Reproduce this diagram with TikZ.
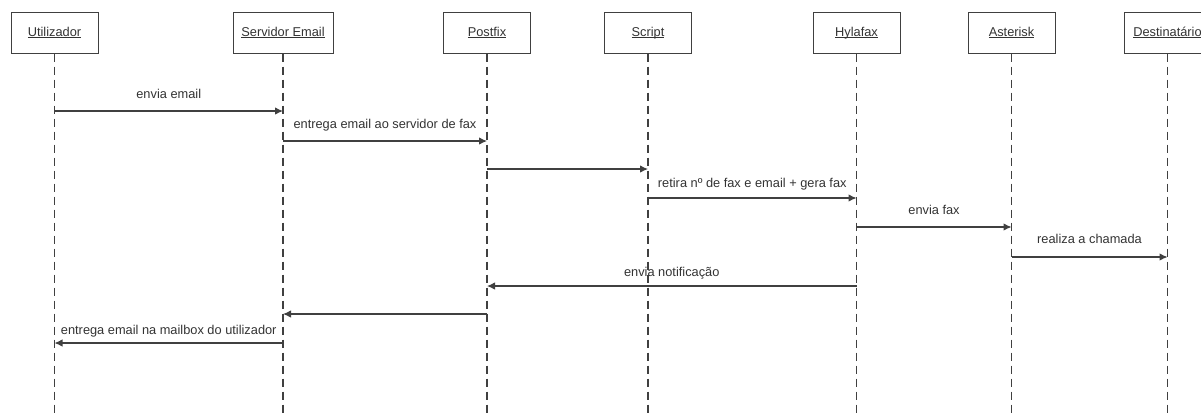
\documentclass[tikz,border=0pt]{standalone}
\usepackage{fontspec}
\setmainfont{Liberation Sans}
\usetikzlibrary{arrows.meta}
\definecolor{inkline}{HTML}{404040}
\definecolor{inktext}{HTML}{333333}
% underline drawn at a fixed distance below the baseline, ignoring descenders
\newcommand{\actorname}[1]{\underline{\raisebox{0pt}[\height][0pt]{#1}}}
\begin{document}
\begin{tikzpicture}[x=1pt,y=-1pt,
  font=\fontsize{12.8}{15}\selectfont,
  actor/.style={draw=inkline, line width=1pt, fill=white, minimum height=41pt,
    minimum width=87pt, inner sep=0pt, text=inktext},
  lifeline/.style={draw=inkline, line width=1.1pt, dash pattern=on 8pt off 5pt},
  msg/.style={draw=inkline, line width=1.1pt, -{Latex[length=8pt,width=7.5pt]}},
  lbl/.style={anchor=base, text=inktext, inner sep=0pt},
]
\useasboundingbox (0,0) rectangle (1201,416);

% participants
\node[actor] (u)  at (54.5,32.5)  {\actorname{Utilizador}};
\node[actor, minimum width=100pt] (se) at (283,32.5) {\actorname{Servidor Email}};
\node[actor] (pf) at (487,32.5)   {\actorname{Postfix}};
\node[actor] (sc) at (648,32.5)   {\actorname{Script}};
\node[actor] (hf) at (856.5,32.5) {\actorname{Hylafax}};
\node[actor] (as) at (1011.5,32.5){\actorname{Asterisk}};
\node[actor] (de) at (1167.5,32.5){\actorname{Destinatário}};

% lifelines
\foreach \n in {u,se,pf,sc,hf,as,de}
  \draw[lifeline] (\n.south) -- (\n.south |- 0,416);

% messages
\draw[msg] (u.south |- 0,111) -- node[lbl, yshift=13pt] {envia email} (se.south |- 0,111);
\draw[msg] (se.south |- 0,141) -- node[lbl, yshift=13pt] {entrega email ao servidor de fax} (pf.south |- 0,141);
\draw[msg] (pf.south |- 0,169) -- (sc.south |- 0,169);
\draw[msg] (sc.south |- 0,198) -- node[lbl, yshift=11pt] {retira nº de fax e email + gera fax} (hf.south |- 0,198);
\draw[msg] (hf.south |- 0,227) -- node[lbl, yshift=13pt] {envia fax} (as.south |- 0,227);
\draw[msg] (as.south |- 0,257) -- node[lbl, yshift=14pt] {realiza a chamada} (de.south |- 0,257);
\draw[msg] (hf.south |- 0,286) -- node[lbl, yshift=10pt] {envia notificação} (pf.south |- 0,286);
\draw[msg] (pf.south |- 0,314) -- (se.south |- 0,314);
\draw[msg] (se.south |- 0,343) -- node[lbl, yshift=9pt] {entrega email na mailbox do utilizador} (u.south |- 0,343);
\end{tikzpicture}
\end{document}
